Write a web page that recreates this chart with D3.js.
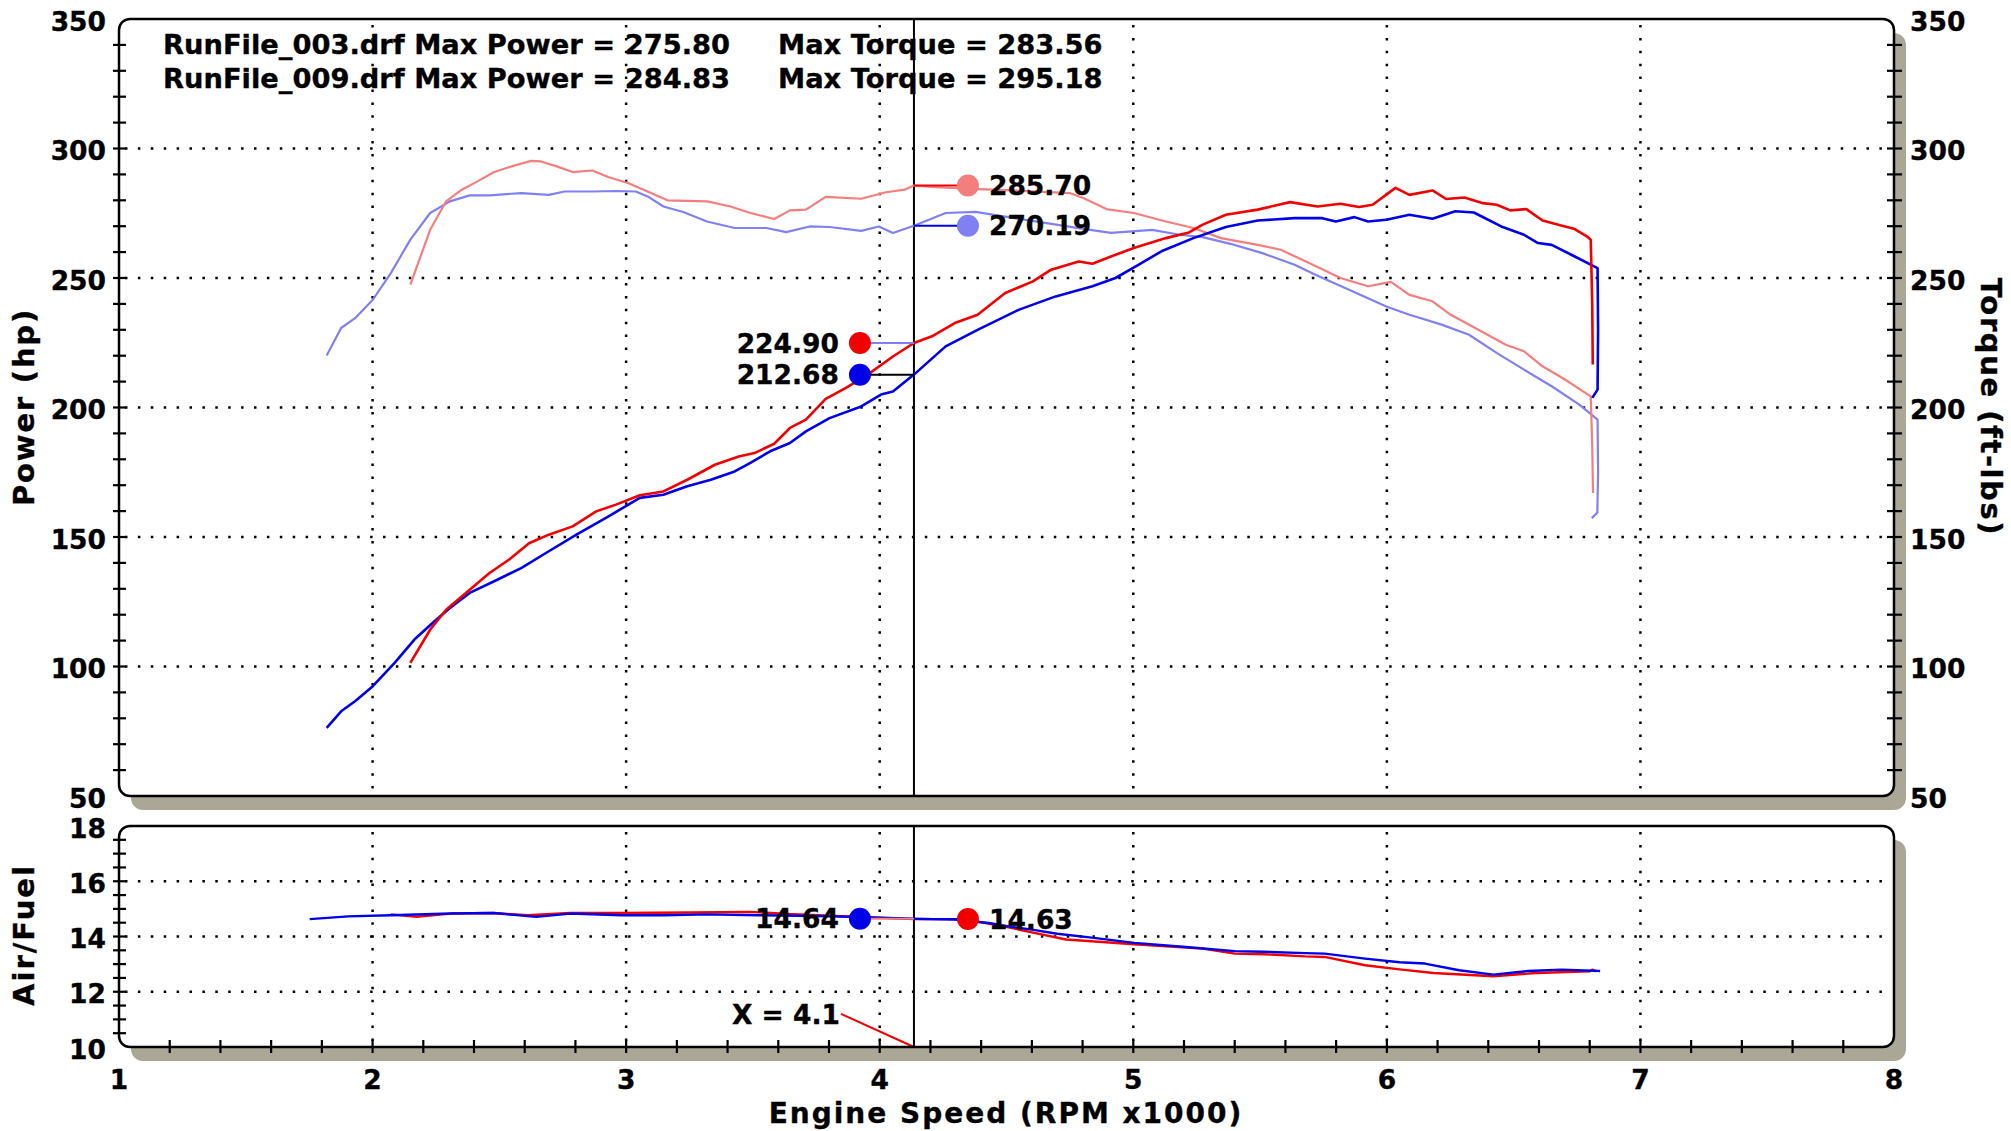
<!DOCTYPE html>
<html>
<head>
<meta charset="utf-8">
<script src="https://cdn.jsdelivr.net/npm/d3@7"></script>
<style>
  body { margin: 0; background: #fff; }
  svg { display: block; }
  text { font-family: "DejaVu Sans", Verdana, sans-serif; font-weight: bold; fill: #000; stroke: #000; stroke-width: 0.35px; }
</style>
</head>
<body>
<div id="chart"></div>
<script>
// run 009 (red) and run 003 (blue), rpm x1000 / value pairs
const power009 = [[2.149,101.4],[2.227,114.2],[2.29,121.9],[2.368,128.4],[2.461,136.1],[2.539,141.3],[2.617,147.6],[2.695,150.9],[2.789,154.1],[2.882,159.9],[2.96,162.5],[3.054,166.1],[3.147,167.6],[3.241,172.1],[3.35,177.9],[3.444,181.1],[3.506,182.4],[3.584,186.0],[3.646,192.1],[3.709,195.3],[3.787,203.3],[3.865,207.5],[3.943,212],[4.052,219.7],[4.135,224.9],[4.206,227.5],[4.296,232.6],[4.386,235.8],[4.495,244.2],[4.604,248.7],[4.676,253.2],[4.785,256.4],[4.839,255.5],[4.912,258.3],[5.002,261.6],[5.129,265.4],[5.22,267.6],[5.274,270.6],[5.365,274.4],[5.491,276.4],[5.618,279.3],[5.727,277.6],[5.817,278.7],[5.89,277.4],[5.944,278.3],[6.034,284.8],[6.089,282.1],[6.18,283.8],[6.234,280.5],[6.306,281.1],[6.379,278.9],[6.433,278.3],[6.487,276.1],[6.55,276.6],[6.614,272.2],[6.68,270.5],[6.741,268.9],[6.79,266],[6.804,264.8],[6.81,240],[6.812,216.6]];
const power003 = [[1.819,76.3],[1.876,82.7],[1.931,86.6],[2.001,92.4],[2.087,101.4],[2.165,110.4],[2.243,117.4],[2.305,122.6],[2.383,128.4],[2.492,133.5],[2.586,138.0],[2.695,144.5],[2.804,150.9],[2.929,157.9],[3.054,165.1],[3.147,166.3],[3.241,169.6],[3.334,172.1],[3.428,175.3],[3.49,178.6],[3.568,183.1],[3.646,186.3],[3.709,190.8],[3.802,195.9],[3.927,200.4],[4.005,205],[4.052,206.2],[4.135,212.7],[4.26,223.6],[4.386,230],[4.55,237.8],[4.694,242.9],[4.839,246.8],[4.93,250],[5.02,255.1],[5.111,260.3],[5.237,265.4],[5.365,269.7],[5.491,272.2],[5.636,273.1],[5.745,273.1],[5.799,271.8],[5.872,273.5],[5.926,271.8],[5.998,272.5],[6.089,274.4],[6.18,272.9],[6.27,275.8],[6.343,275.3],[6.451,269.9],[6.541,266.7],[6.596,263.5],[6.65,262.8],[6.741,258.3],[6.831,253.8],[6.833,230],[6.831,206.9],[6.81,203.7]];
const torque009 = [[2.149,247.4],[2.18,255.8],[2.227,268.6],[2.29,279.6],[2.352,284.1],[2.414,287.3],[2.477,290.8],[2.555,293.3],[2.625,295.2],[2.664,295.0],[2.726,293.1],[2.789,290.9],[2.867,291.5],[2.929,289],[3.007,286.7],[3.069,284.1],[3.163,280],[3.319,279.6],[3.412,277.6],[3.49,275.1],[3.584,272.8],[3.646,276.1],[3.709,276.4],[3.787,281.3],[3.927,280.6],[4.02,283.0],[4.098,284.1],[4.135,285.7],[4.224,285.1],[4.386,284.3],[4.531,283.8],[4.749,282.8],[4.803,280.9],[4.894,276.6],[5.002,275.1],[5.129,271.8],[5.237,269.3],[5.346,265.4],[5.491,262.8],[5.582,260.9],[5.708,255.1],[5.817,250],[5.926,246.8],[6.016,248.5],[6.089,243.5],[6.18,241],[6.252,235.8],[6.361,230],[6.469,224.2],[6.541,221.7],[6.614,215.9],[6.704,210.7],[6.804,204.3],[6.81,185],[6.813,167]];
const torque003 = [[1.819,220.1],[1.876,230.7],[1.931,234.5],[2.001,241.6],[2.072,251.9],[2.149,264.8],[2.227,275.1],[2.305,279.6],[2.383,281.9],[2.461,281.9],[2.586,282.8],[2.695,282.1],[2.757,283.4],[2.867,283.4],[2.96,283.6],[3.038,283.4],[3.085,281.5],[3.147,277.6],[3.225,275.5],[3.319,271.8],[3.428,269.3],[3.553,269.3],[3.631,267.7],[3.724,269.9],[3.802,269.7],[3.927,268.2],[3.997,269.9],[4.052,267.4],[4.135,270.2],[4.26,275.1],[4.378,275.5],[4.531,273.1],[4.658,271.2],[4.803,269],[4.912,267.4],[5.075,268.6],[5.183,266.7],[5.274,265.8],[5.383,263.2],[5.509,259.6],[5.636,255.1],[5.727,250.9],[5.853,245.4],[5.998,239],[6.089,235.8],[6.216,232],[6.324,228.1],[6.433,221.1],[6.541,214.6],[6.65,208.2],[6.759,201.1],[6.831,195.3],[6.833,175],[6.83,159.4],[6.808,157.3]];
const afr009 = [[2.072,14.80],[2.173,14.71],[2.308,14.83],[2.477,14.85],[2.611,14.77],[2.78,14.85],[2.982,14.85],[3.251,14.87],[3.487,14.89],[3.656,14.81],[3.9,14.72],[4.135,14.63],[4.331,14.63],[4.499,14.35],[4.6,14.15],[4.735,13.89],[5.004,13.72],[5.274,13.56],[5.40,13.38],[5.51,13.36],[5.678,13.28],[5.755,13.26],[5.914,12.96],[6.05,12.81],[6.184,12.68],[6.42,12.56],[6.589,12.68],[6.8,12.74],[6.81,12.8],[6.824,12.75]];
const afr003 = [[1.752,14.63],[1.904,14.73],[2.072,14.77],[2.308,14.83],[2.477,14.85],[2.645,14.71],[2.78,14.83],[2.982,14.77],[3.151,14.77],[3.319,14.80],[3.521,14.77],[3.75,14.74],[3.924,14.7],[4.135,14.64],[4.297,14.61],[4.431,14.49],[4.52,14.35],[4.6,14.25],[4.70,14.1],[4.836,13.96],[5.004,13.77],[5.207,13.62],[5.4,13.47],[5.51,13.45],[5.678,13.40],[5.755,13.38],[5.914,13.20],[6.05,13.07],[6.15,13.02],[6.285,12.78],[6.42,12.62],[6.555,12.75],[6.69,12.80],[6.841,12.75]];

const legendLines = [
  ["RunFile_003.drf Max Power = 275.80", "Max Torque = 283.56"],
  ["RunFile_009.drf Max Power = 284.83", "Max Torque = 295.18"]
];
const cursorRpm = 4.135;
const cursorLabel = "X = 4.1";
const powerReadouts = [224.90, 212.68];   // 009, 003
const torqueReadouts = [285.70, 270.19];  // 009, 003
const afrReadouts = [14.64, 14.63];       // 003, 009

const xTicks = [1, 2, 3, 4, 5, 6, 7, 8];
const topTicks = [50, 100, 150, 200, 250, 300, 350];
const afrTicks = [10, 12, 14, 16, 18];

const W = 2011, H = 1131;
const RED = "#f00000", BLUE = "#0000e6", LRED = "#f47e7e", LBLUE = "#8080f2";
const SHADOW = "#aba797";

const svg = d3.select("#chart").append("svg")
  .attr("width", W).attr("height", H);

const x = d3.scaleLinear().domain([1, 8]).range([119, 1894]);
const yTop = d3.scaleLinear().domain([50, 350]).range([796, 19]);
const yAfr = d3.scaleLinear().domain([10, 18]).range([1047, 826]);

const panels = [
  { y: yTop, top: 19, bottom: 796, grid: [100, 150, 200, 250, 300], minor: d3.range(60, 341, 10), rightTicks: true },
  { y: yAfr, top: 826, bottom: 1047, grid: [12, 14, 16], minor: d3.range(10.5, 17.6, 0.5), rightTicks: false }
];

// shadows + white frames
panels.forEach(p => {
  svg.append("rect")
    .attr("x", x(1) + 12).attr("y", p.top + 14)
    .attr("width", x(8) - x(1)).attr("height", p.bottom - p.top)
    .attr("rx", 12).attr("fill", SHADOW);
  svg.append("rect")
    .attr("x", x(1)).attr("y", p.top)
    .attr("width", x(8) - x(1)).attr("height", p.bottom - p.top)
    .attr("rx", 11).attr("fill", "#fff");
});

// dotted grid
panels.forEach(p => {
  const g = svg.append("g")
    .attr("stroke", "#000").attr("stroke-width", 2.5)
    .attr("stroke-dasharray", "2.5,10.4");
  g.selectAll(".vg").data(xTicks.slice(1, -1)).enter().append("line")
    .attr("x1", d => x(d)).attr("x2", d => x(d))
    .attr("y1", p.top + 6).attr("y2", p.bottom - 4);
  g.selectAll(".hg").data(p.grid).enter().append("line")
    .attr("x1", x(1) + 6).attr("x2", x(8) - 4)
    .attr("y1", d => p.y(d)).attr("y2", d => p.y(d));
});

// cursor line
panels.forEach(p => {
  svg.append("line")
    .attr("x1", x(cursorRpm)).attr("x2", x(cursorRpm))
    .attr("y1", p.top).attr("y2", p.bottom)
    .attr("stroke", "#000").attr("stroke-width", 2);
});

// curves
const lineTop = d3.line().x(d => x(d[0])).y(d => yTop(d[1]));
const lineAfr = d3.line().x(d => x(d[0])).y(d => yAfr(d[1]));

[[torque003, LBLUE, 2.2], [torque009, LRED, 2.2], [power003, BLUE, 2.6], [power009, RED, 2.6]]
  .forEach(([data, color, w]) => {
    svg.append("path").datum(data)
      .attr("d", lineTop).attr("fill", "none")
      .attr("stroke", color).attr("stroke-width", w)
      .attr("stroke-linejoin", "round");
  });
[[afr009, RED], [afr003, BLUE]].forEach(([data, color]) => {
  svg.append("path").datum(data)
    .attr("d", lineAfr).attr("fill", "none")
    .attr("stroke", color).attr("stroke-width", 2.4)
    .attr("stroke-linejoin", "round");
});

// cursor readouts
const cx = x(cursorRpm);
const dotOff = 54;
const readouts = [
  { y: yTop(powerReadouts[0]), text: powerReadouts[0].toFixed(2), side: -1, dot: RED, lead: LBLUE },
  { y: yTop(powerReadouts[1]), text: powerReadouts[1].toFixed(2), side: -1, dot: BLUE, lead: "#000" },
  { y: yTop(torqueReadouts[0]), text: torqueReadouts[0].toFixed(2), side: 1, dot: LRED, lead: RED },
  { y: yTop(torqueReadouts[1]), text: torqueReadouts[1].toFixed(2), side: 1, dot: LBLUE, lead: BLUE },
  { y: yAfr(afrReadouts[0]), text: afrReadouts[0].toFixed(2), side: -1, dot: BLUE, lead: LRED },
  { y: yAfr(afrReadouts[1]), text: afrReadouts[1].toFixed(2), side: 1, dot: RED, lead: BLUE }
];
readouts.forEach(r => {
  const dx = cx + r.side * dotOff;
  svg.append("line")
    .attr("x1", cx).attr("x2", dx).attr("y1", r.y).attr("y2", r.y)
    .attr("stroke", r.lead).attr("stroke-width", 2);
  svg.append("circle")
    .attr("cx", dx).attr("cy", r.y).attr("r", 11).attr("fill", r.dot);
  svg.append("text")
    .attr("x", dx + r.side * 21).attr("y", r.y)
    .attr("dominant-baseline", "central")
    .attr("text-anchor", r.side < 0 ? "end" : "start")
    .style("font-size", "26.5px")
    .text(r.text);
});

// "X = 4.1" note with red leader to the axis
svg.append("line")
  .attr("x1", 841).attr("y1", yAfr(11.2))
  .attr("x2", cx).attr("y2", yAfr(10))
  .attr("stroke", RED).attr("stroke-width", 2);
svg.append("text")
  .attr("x", 840).attr("y", yAfr(11.18))
  .attr("text-anchor", "end").attr("dominant-baseline", "central")
  .style("font-size", "26.5px")
  .text(cursorLabel);

// legend block
legendLines.forEach((l, i) => {
  svg.append("text").attr("x", 163).attr("y", 54 + i * 34)
    .style("font-size", "27.3px").text(l[0]);
  svg.append("text").attr("x", 778).attr("y", 54 + i * 34)
    .style("font-size", "27.3px").text(l[1]);
});

// frames
panels.forEach(p => {
  svg.append("rect")
    .attr("x", x(1)).attr("y", p.top)
    .attr("width", x(8) - x(1)).attr("height", p.bottom - p.top)
    .attr("rx", 11).attr("fill", "none")
    .attr("stroke", "#000").attr("stroke-width", 2.5);
});

// tick marks
const tk = svg.append("g").attr("stroke", "#000").attr("stroke-width", 2.2);
panels.forEach(p => {
  tk.selectAll(null).data(p.minor).enter().append("line")
    .attr("x1", x(1) - 6).attr("x2", x(1) + 7)
    .attr("y1", d => p.y(d)).attr("y2", d => p.y(d));
  if (p.rightTicks) {
    tk.selectAll(null).data(p.minor).enter().append("line")
      .attr("x1", x(8) - 7).attr("x2", x(8) + 8)
      .attr("y1", d => p.y(d)).attr("y2", d => p.y(d));
  }
});
tk.selectAll(null).data(d3.range(1.2, 7.85, 0.2)).enter().append("line")
  .attr("x1", d => x(d)).attr("x2", d => x(d))
  .attr("y1", yAfr(10) - 7).attr("y2", yAfr(10) + 6);

// tick labels
const lab = svg.append("g").style("font-size", "26.5px");
lab.selectAll(null).data(topTicks).enter().append("text")
  .attr("x", 106).attr("y", d => yTop(d) + 2)
  .attr("text-anchor", "end").attr("dominant-baseline", "central").text(d => d);
lab.selectAll(null).data(topTicks).enter().append("text")
  .attr("x", 1910).attr("y", d => yTop(d) + 2)
  .attr("text-anchor", "start").attr("dominant-baseline", "central").text(d => d);
lab.selectAll(null).data(afrTicks).enter().append("text")
  .attr("x", 106).attr("y", d => yAfr(d) + 2)
  .attr("text-anchor", "end").attr("dominant-baseline", "central").text(d => d);
lab.selectAll(null).data(xTicks).enter().append("text")
  .attr("x", d => x(d)).attr("y", 1089)
  .attr("text-anchor", "middle").text(d => d);

// axis titles
svg.append("text")
  .attr("x", 1006).attr("y", 1123)
  .attr("text-anchor", "middle")
  .style("font-size", "28px").style("letter-spacing", "2px")
  .text("Engine Speed (RPM x1000)");
svg.append("text")
  .attr("transform", "translate(24,407) rotate(-90)")
  .attr("text-anchor", "middle").attr("dominant-baseline", "central")
  .style("font-size", "29px").style("letter-spacing", "1.8px")
  .text("Power (hp)");
svg.append("text")
  .attr("transform", "translate(1991,407) rotate(90)")
  .attr("text-anchor", "middle").attr("dominant-baseline", "central")
  .style("font-size", "29px").style("letter-spacing", "1.6px")
  .text("Torque (ft-lbs)");
svg.append("text")
  .attr("transform", "translate(24,935) rotate(-90)")
  .attr("text-anchor", "middle").attr("dominant-baseline", "central")
  .style("font-size", "29px").style("letter-spacing", "2px")
  .text("Air/Fuel");
</script>
</body>
</html>
